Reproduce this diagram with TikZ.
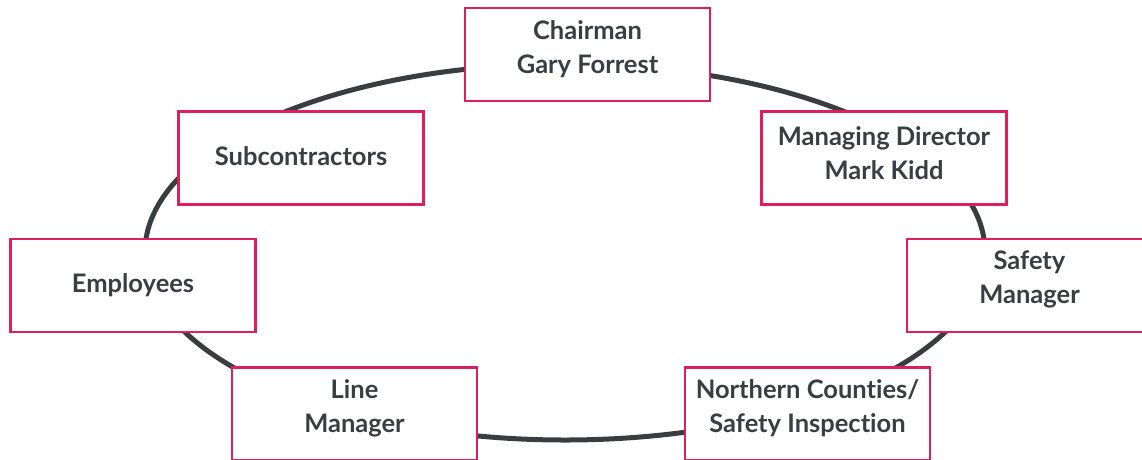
\documentclass[tikz,border=0pt]{standalone}
\usepackage{fontspec}
\setmainfont{Lato}[Ligatures={NoCommon}]
\definecolor{ringc}{HTML}{3A3D40}
\definecolor{boxc}{HTML}{DE1F5C}
\definecolor{txtc}{HTML}{3A3D41}
\begin{document}
\begin{tikzpicture}[x=1pt,y=-1pt,
  box/.style={draw=boxc, line width=2.6pt, fill=white, minimum width=245pt, minimum height=93pt, inner sep=0pt},
  lbl/.style={text=txtc, font=\fontsize{25.5}{34}\selectfont\bfseries, align=center, inner sep=0pt}]
\useasboundingbox (0,0) rectangle (1142,459);
\clip (0,0) rectangle (1142,459);
\draw[ringc, line width=5pt] (565,252) ellipse [x radius=420, y radius=188];
\node[box] (b1) at (587.5,54.5) {};
\node[lbl] (t1) at ([yshift=5]b1.center) {Chairman\\Gary Forrest};
\node[box] (b2) at (884,158) {};
\node[lbl] (t2) at ([yshift=5]b2.center) {Managing Director\\Mark Kidd};
\node[box] (b3) at (1029.5,285.5) {};
\node[lbl] (t3) at ([yshift=6]b3.center) {Safety\\Manager};
\node[box] (b4) at (807.5,414) {};
\node[lbl] (t4) at ([yshift=6]b4.center) {Northern Counties/\\Safety Inspection};
\node[box] (b5) at (354.5,414) {};
\node[lbl] (t5) at ([yshift=6]b5.center) {Line\\Manager};
\node[box] (b6) at (133,285.5) {};
\node[lbl] (t6) at (b6.center) {Employees};
\node[box] (b7) at (301,158) {};
\node[lbl] (t7) at ([yshift=2]b7.center) {Subcontractors};
\end{tikzpicture}
\end{document}
